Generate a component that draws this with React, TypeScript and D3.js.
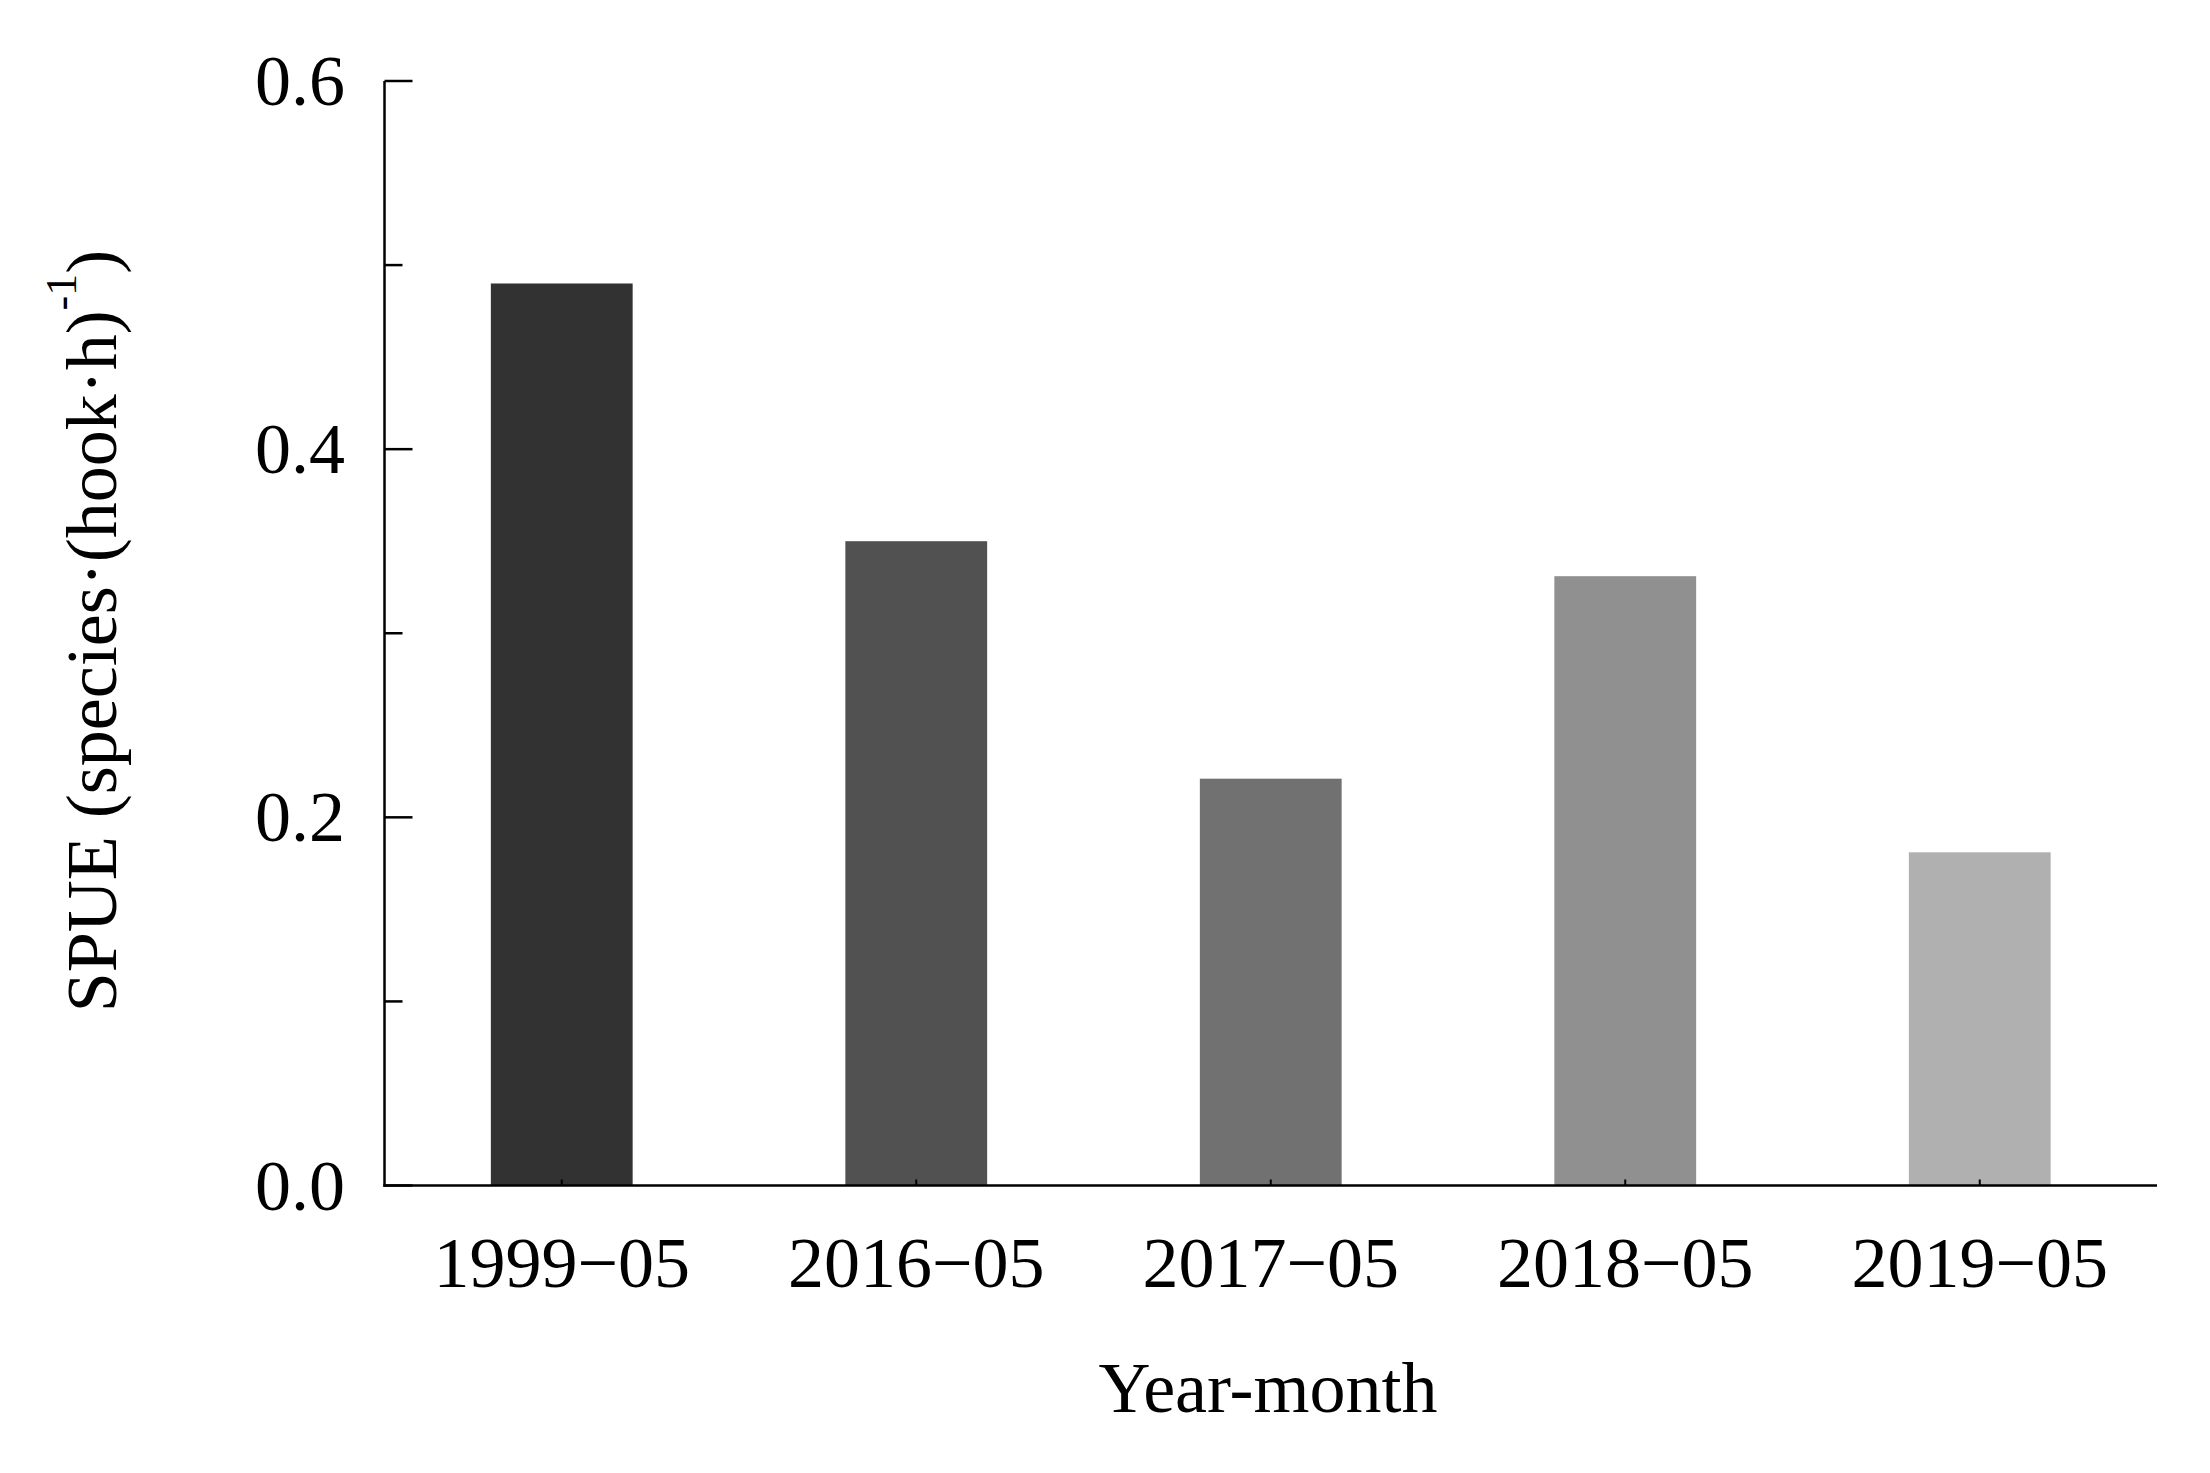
import React from "react";
import * as d3 from "d3";

const categories = ["1999\u221205", "2016\u221205", "2017\u221205", "2018\u221205", "2019\u221205"];
const values = [0.49, 0.35, 0.221, 0.331, 0.181];
const barColors = ["#323232", "#515151", "#717171", "#909090", "#b0b0b0"];
const majorTicks = [0, 0.2, 0.4, 0.6];
const minorTicks = [0.1, 0.3, 0.5];
const yLabelMain = "SPUE (species\u00b7(hook\u00b7h)";
const yLabelSup = "-1";
const xLabel = "Year-month";

const W = 2210;
const H = 1473;
const left = 384.5;
const right = 2157;
const top = 81;
const bottom = 1185.5;
const FONT = "'Liberation Serif', 'Times New Roman', serif";

export default function App() {
  const x = d3.scaleBand<string>().domain(categories).range([left, right]).paddingInner(0.6).paddingOuter(0.3);
  const y = d3.scaleLinear().domain([0, 0.6]).range([bottom, top]);
  const fmt = d3.format(".1f");
  return (
    <svg width={W} height={H} style={{ position: "absolute", left: 0, top: 0, background: "#fff" }} fontFamily={FONT}>
      <rect x={0} y={0} width={W} height={H} fill="#fff" />
      {categories.map((c, i) => (
        <rect key={c} x={x(c)} y={y(values[i])} width={x.bandwidth()} height={y(0) - y(values[i])} fill={barColors[i]} />
      ))}
      {/* axes */}
      <line x1={left} x2={left} y1={top} y2={bottom + 1.25} stroke="#000" strokeWidth={2.5} />
      <line x1={left - 1.25} x2={right} y1={bottom} y2={bottom} stroke="#000" strokeWidth={2.5} />
      {majorTicks.map((t) => (
        <g key={"M" + t}>
          <line x1={left} x2={left + 28} y1={y(t)} y2={y(t)} stroke="#000" strokeWidth={2.5} />
          <text x={345} y={y(t) + 24} fontSize={72} textAnchor="end" fill="#000">
            {fmt(t)}
          </text>
        </g>
      ))}
      {minorTicks.map((t) => (
        <line key={"m" + t} x1={left} x2={left + 18} y1={y(t)} y2={y(t)} stroke="#000" strokeWidth={2.5} />
      ))}
      {categories.map((c) => {
        const cx = (x(c) as number) + x.bandwidth() / 2;
        return (
          <g key={"x" + c}>
            <line x1={cx} x2={cx} y1={bottom} y2={bottom - 6} stroke="#000" strokeWidth={2} />
            <text x={cx} y={1287} fontSize={72} textAnchor="middle" fill="#000">
              {c}
            </text>
          </g>
        );
      })}
      <text x={1268} y={1412} fontSize={72} textAnchor="middle" fill="#000">
        {xLabel}
      </text>
      <text transform={`translate(116, 631) rotate(-90)`} fontSize={72} textAnchor="middle" fill="#000">
        <tspan>{yLabelMain}</tspan>
        <tspan fontSize={44} dy={-40}>{yLabelSup}</tspan>
        <tspan dy={40}>)</tspan>
      </text>
    </svg>
  );
}
